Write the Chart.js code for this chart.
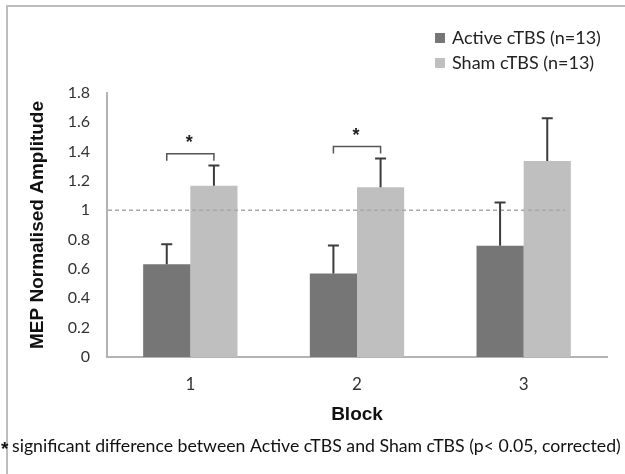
<!DOCTYPE html>
<html>
<head>
<meta charset="utf-8">
<script src="https://cdn.jsdelivr.net/npm/chart.js@4/dist/chart.umd.min.js"></script>
<style>
  html, body { margin: 0; padding: 0; background: #ffffff; }
  canvas { display: block; }
</style>
</head>
<body>
<canvas id="mep" width="625" height="474"></canvas>
<script>
// Blocks and group means (MEP amplitude normalised to baseline)
const blocks = ['1', '2', '3'];
const activeMeans = [0.633, 0.57, 0.758];
const shamMeans = [1.168, 1.157, 1.337];
// Upper error bar lengths (SEM)
const activeErr = [0.135, 0.19, 0.296];
const shamErr = [0.137, 0.197, 0.291];
const yTickLabels = ['0', '0.2', '0.4', '0.6', '0.8', '1', '1.2', '1.4', '1.6', '1.8'];
// Blocks with a significant Active vs Sham difference, and the bracket height for each
const sigBlocks = [0, 1];
const sigBracketLevel = [1.385, 1.435];
const baselineLevel = 1;
const footnote = 'significant difference between Active cTBS and Sham cTBS (p< 0.05, corrected)';

const BODY_FONT = 'Lato, "Open Sans", sans-serif';
const BOLD_FONT = '"Liberation Sans", Arial, sans-serif';

const extras = {
  id: 'extras',
  beforeDraw(chart) {
    const ctx = chart.ctx;
    ctx.save();
    ctx.fillStyle = '#ffffff';
    ctx.fillRect(0, 0, chart.width, chart.height);
    // frame around the figure (open on the right and bottom edges)
    ctx.strokeStyle = '#bdbdbd';
    ctx.lineWidth = 2;
    ctx.strokeRect(7, 6, 800, 800);
    ctx.restore();
  },
  afterDatasetsDraw(chart) {
    const ctx = chart.ctx;
    const xs = chart.scales.x, ys = chart.scales.y;
    const area = chart.chartArea;
    ctx.save();

    // dashed reference line at 1.0
    const catW = xs.getPixelForValue(1) - xs.getPixelForValue(0);
    const yRef = ys.getPixelForValue(baselineLevel);
    ctx.strokeStyle = '#a8a8a8';
    ctx.lineWidth = 1.5;
    ctx.setLineDash([4, 3]);
    ctx.beginPath();
    ctx.moveTo(area.left + 1, yRef);
    ctx.lineTo(xs.getPixelForValue(2) + catW * 0.25, yRef);
    ctx.stroke();
    ctx.setLineDash([]);

    // upper error bars
    const errs = [activeErr, shamErr];
    ctx.strokeStyle = '#3c3c3c';
    ctx.lineWidth = 2;
    chart.data.datasets.forEach((ds, di) => {
      const meta = chart.getDatasetMeta(di);
      meta.data.forEach((bar, i) => {
        const top = ys.getPixelForValue(ds.data[i] + errs[di][i]);
        ctx.beginPath();
        ctx.moveTo(bar.x, bar.y);
        ctx.lineTo(bar.x, top);
        ctx.moveTo(bar.x - 5.5, top);
        ctx.lineTo(bar.x + 5.5, top);
        ctx.stroke();
      });
    });

    // significance brackets with asterisks
    const mA = chart.getDatasetMeta(0), mS = chart.getDatasetMeta(1);
    sigBlocks.forEach((b, k) => {
      const x1 = mA.data[b].x, x2 = mS.data[b].x;
      const y = ys.getPixelForValue(sigBracketLevel[k]);
      ctx.strokeStyle = '#555555';
      ctx.lineWidth = 1.5;
      ctx.beginPath();
      ctx.moveTo(x1, y + 7);
      ctx.lineTo(x1, y);
      ctx.lineTo(x2, y);
      ctx.lineTo(x2, y + 7);
      ctx.stroke();
      ctx.fillStyle = '#222222';
      ctx.font = 'bold 18px ' + BOLD_FONT;
      ctx.textAlign = 'center';
      ctx.textBaseline = 'middle';
      ctx.fillText('*', (x1 + x2) / 2 - 1, y - 11);
    });

    // legend, stacked in the top right corner
    ctx.textAlign = 'left';
    ctx.textBaseline = 'middle';
    ctx.font = '18px ' + BODY_FONT;
    chart.data.datasets.forEach((ds, di) => {
      const cy = 38 + di * 25;
      ctx.fillStyle = ds.backgroundColor;
      ctx.fillRect(435, cy - 5, 10, 10);
      ctx.fillStyle = '#222222';
      ctx.fillText(ds.label, 452, cy);
    });

    // footnote
    ctx.fillStyle = '#111111';
    ctx.font = 'bold 19px ' + BOLD_FONT;
    ctx.fillText('*', 1, 450);
    ctx.font = '17.7px ' + BODY_FONT;
    ctx.fillText(footnote, 12, 446);

    ctx.restore();
  }
};

new Chart(document.getElementById('mep'), {
  type: 'bar',
  data: {
    labels: blocks,
    datasets: [
      { label: 'Active cTBS (n=13)', data: activeMeans, backgroundColor: '#767676' },
      { label: 'Sham cTBS (n=13)', data: shamMeans, backgroundColor: '#bfbfbf' }
    ]
  },
  options: {
    responsive: false,
    animation: false,
    devicePixelRatio: 1,
    layout: { padding: { left: 0, right: 18, top: 93, bottom: 0 } },
    datasets: { bar: { categoryPercentage: 0.566, barPercentage: 1 } },
    plugins: { legend: { display: false }, tooltip: { enabled: false } },
    scales: {
      x: {
        grid: { display: false, drawTicks: false },
        border: { color: '#b3b3b3', width: 2 },
        ticks: { color: '#333333', font: { family: BODY_FONT, size: 17 }, padding: 17 },
        title: {
          display: true, text: 'Block', color: '#111111',
          font: { family: BOLD_FONT, size: 19, weight: 'bold' },
          padding: { top: 0, bottom: 48 }
        },
        afterFit(s) { s.height = 117; }
      },
      y: {
        min: 0, max: 1.8,
        grid: { display: false, drawTicks: false },
        border: { color: '#b3b3b3', width: 2 },
        ticks: {
          stepSize: 0.2, color: '#333333', padding: 17,
          font: { family: BODY_FONT, size: 16 },
          callback: (v, i) => yTickLabels[i]
        },
        title: {
          display: true, text: 'MEP Normalised Amplitude', color: '#111111',
          font: { family: BOLD_FONT, size: 19, weight: 'bold' },
          padding: { top: 26, bottom: 0 }
        },
        afterFit(s) { s.width = 107; }
      }
    }
  },
  plugins: [extras]
});
</script>
</body>
</html>
